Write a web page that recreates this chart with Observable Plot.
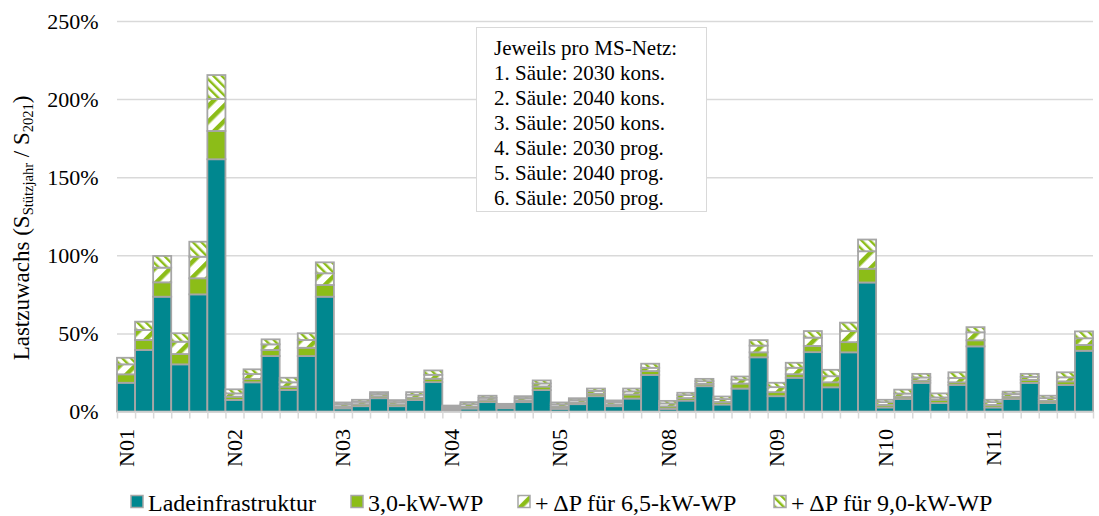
<!DOCTYPE html>
<html>
<head>
<meta charset="utf-8">
<script src="https://cdn.jsdelivr.net/npm/d3@7"></script>
<script src="https://cdn.jsdelivr.net/npm/@observablehq/plot@0.6"></script>
<style>
  body { margin: 0; background: #fff; font-family: "Liberation Serif", "Times New Roman", serif; }
  #wrap { position: relative; width: 1099px; height: 516px; overflow: hidden; }
  #chart { position: absolute; left: 0; top: 0; }
  #legend { position: absolute; left: 0; top: 480px; }
  #box { position: absolute; left: 476px; top: 27px; width: 231px; height: 185px; box-sizing: border-box;
         border: 1px solid #d9d9d9; background: #fff; padding: 8px 0 0 17px; font-size: 21px; line-height: 25px; color: #000; }
  #box div { white-space: nowrap; }
</style>
</head>
<body>
<div id="wrap">
  <div id="chart"></div>
  <div id="box"></div>
  <svg id="legend" width="1099" height="36"></svg>
</div>
<script>
// ---------- data ----------
const groups = ["N01", "N02", "N03", "N04", "N05", "N08", "N09", "N10", "N11"];
const seriesNames = ["Ladeinfrastruktur", "3,0-kW-WP", "+ ΔP für 6,5-kW-WP", "+ ΔP für 9,0-kW-WP"];
// 6 columns per network: 2030/2040/2050 kons., 2030/2040/2050 prog.  (values in %)
const ladeinfrastruktur = [
  18.4, 39.4, 73.5, 30.2, 75.0, 161.5,
  7.4, 18.7, 35.5, 13.8, 35.5, 73.5,
  2.0, 3.4, 8.5, 3.4, 7.3, 18.8,
  0.8, 1.9, 6.0, 2.1, 6.0, 13.7,
  1.7, 4.7, 9.8, 3.4, 8.3, 23.4,
  1.7, 7.0, 16.2, 4.5, 14.7, 34.7,
  9.8, 21.6, 38.0, 15.5, 37.9, 82.6,
  2.6, 8.0, 18.3, 5.4, 17.0, 41.7,
  2.6, 8.0, 18.3, 5.4, 17.0, 38.9
];
const wp30 = [
  5.4, 6.4, 9.2, 6.6, 10.3, 18.1,
  2.1, 2.1, 3.9, 2.1, 5.3, 7.5,
  1.2, 1.3, 1.3, 1.3, 1.6, 2.2,
  1.0, 1.3, 1.3, 0.9, 1.2, 2.3,
  1.3, 1.2, 1.6, 1.2, 2.6, 2.5,
  1.6, 1.6, 1.5, 1.6, 3.2, 3.2,
  2.6, 2.3, 4.0, 3.2, 6.5, 8.8,
  1.6, 1.5, 1.5, 2.1, 1.7, 3.9,
  1.6, 1.5, 2.0, 1.5, 2.3, 3.7
];
const dp65 = [
  6.4, 6.4, 9.4, 7.9, 13.8, 20.5,
  2.1, 3.2, 3.6, 2.8, 5.0, 7.5,
  1.4, 1.5, 1.4, 1.4, 1.9, 2.5,
  1.1, 1.5, 1.5, 1.0, 1.4, 2.0,
  1.5, 1.4, 1.8, 1.4, 2.0, 2.1,
  1.9, 1.9, 1.7, 1.9, 2.6, 4.3,
  3.2, 4.1, 5.3, 3.9, 7.1, 11.2,
  1.8, 2.0, 2.0, 1.5, 2.8, 5.1,
  1.8, 1.7, 1.9, 1.7, 2.6, 4.3
];
const dp90 = [
  4.2, 5.3, 7.5, 5.4, 9.6, 15.3,
  2.6, 3.0, 3.2, 2.9, 4.3, 7.0,
  1.2, 1.3, 1.2, 1.2, 1.6, 2.8,
  0.9, 1.3, 1.3, 0.9, 1.2, 1.9,
  1.3, 1.2, 1.5, 1.1, 1.8, 2.6,
  1.6, 1.5, 1.5, 1.6, 1.9, 3.5,
  2.8, 3.2, 4.2, 4.1, 5.4, 7.5,
  1.5, 2.5, 2.3, 2.6, 3.6, 3.3,
  1.5, 1.5, 1.9, 1.5, 3.2, 4.4
];
const yTicks = [0, 50, 100, 150, 200, 250];
const boxLines = [
  "Jeweils pro MS-Netz:",
  "1. Säule: 2030 kons.",
  "2. Säule: 2040 kons.",
  "3. Säule: 2050 kons.",
  "4. Säule: 2030 prog.",
  "5. Säule: 2040 prog.",
  "6. Säule: 2050 prog."
];

// ---------- build stacked rows ----------
const seriesValues = [ladeinfrastruktur, wp30, dp65, dp90];
const nBars = ladeinfrastruktur.length;
const rows = [];
for (let i = 0; i < nBars; i++) {
  let acc = 0;
  seriesNames.forEach((s, k) => {
    const v = seriesValues[k][i];
    rows.push({i, series: s, y1: acc, y2: acc + v});
    acc += v;
  });
}

const TEAL = "#00878f", GREEN = "#8cbd18", BORDER = "#a6a6a6", GRID = "#d9d9d9";
const fills = [TEAL, GREEN, "url(#pat65)", "url(#pat90)"];
const FONT = "'Liberation Serif', 'Times New Roman', serif";

const plot = Plot.plot({
  width: 1099,
  height: 480,
  marginTop: 21,
  marginBottom: 68.5,
  marginLeft: 117,
  marginRight: 6,
  style: {fontFamily: FONT, fontSize: "22px", color: "#000", background: "transparent"},
  x: {type: "linear", domain: [0, nBars]},
  y: {domain: [0, 250]},
  color: {domain: seriesNames, range: fills},
  marks: [
    Plot.gridY({ticks: yTicks, stroke: GRID, strokeOpacity: 1, strokeWidth: 1.5}),
    Plot.axisY({ticks: yTicks, tickSize: 0, tickPadding: 19, tickFormat: d => d + "%", label: null, fontSize: 22}),
    Plot.rect(rows, {x1: d => d.i, x2: d => d.i + 1, y1: "y1", y2: "y2", fill: "series",
                     stroke: BORDER, strokeWidth: 1.8}),
    Plot.ruleY([0], {stroke: GRID, strokeWidth: 1.5}),
    Plot.axisX({ticks: d3.range(0, nBars + 1), tickSize: 7, tickFormat: () => "", label: null,
                stroke: GRID, strokeWidth: 1.5, strokeOpacity: 1}),
    Plot.axisX({ticks: groups.map((g, k) => k * 6 + 0.5), tickFormat: d => groups[Math.floor(d / 6)],
                tickSize: 0, tickPadding: 17, tickRotate: -90, label: null, fontSize: 22})
  ]
});
document.getElementById("chart").appendChild(plot);

// ---------- hatch patterns ----------
const svg = d3.select(plot);
const defs = svg.insert("defs", ":first-child");
const p1 = defs.append("pattern").attr("id", "pat65").attr("patternUnits", "userSpaceOnUse")
  .attr("width", 11).attr("height", 11).attr("patternTransform", "rotate(45)");
p1.append("rect").attr("width", 11).attr("height", 11).attr("fill", "#fff");
p1.append("rect").attr("width", 4.5).attr("height", 11).attr("fill", GREEN);
const p2 = defs.append("pattern").attr("id", "pat90").attr("patternUnits", "userSpaceOnUse")
  .attr("width", 6).attr("height", 6).attr("patternTransform", "rotate(-45)");
p2.append("rect").attr("width", 6).attr("height", 6).attr("fill", "#fff");
p2.append("rect").attr("width", 2.4).attr("height", 6).attr("fill", GREEN);

// ---------- y-axis title with subscripts ----------
const ttl = svg.append("text")
  .attr("transform", "translate(29,228) rotate(-90)")
  .attr("text-anchor", "middle")
  .attr("font-family", FONT).attr("font-size", 23).attr("fill", "#000");
ttl.append("tspan").text("Lastzuwachs (S");
ttl.append("tspan").attr("font-size", 14.5).attr("dy", 4).text("Stützjahr");
ttl.append("tspan").attr("dy", -4).text(" / S");
ttl.append("tspan").attr("font-size", 14.5).attr("dy", 4).text("2021");
ttl.append("tspan").attr("dy", -4).text(")");

// ---------- annotation box ----------
const box = d3.select("#box");
boxLines.forEach(l => box.append("div").text(l));

// ---------- legend ----------
const leg = d3.select("#legend");
const legX = [131, 351, 518, 774];
seriesNames.forEach((s, k) => {
  leg.append("rect").attr("x", legX[k]).attr("y", 15.5).attr("width", 12).attr("height", 12)
    .attr("fill", fills[k]).attr("stroke", BORDER).attr("stroke-width", 1.5);
  leg.append("text").attr("x", legX[k] + 17).attr("y", 31)
    .attr("font-family", FONT).attr("font-size", 24).attr("fill", "#000").text(s);
});
</script>
</body>
</html>
